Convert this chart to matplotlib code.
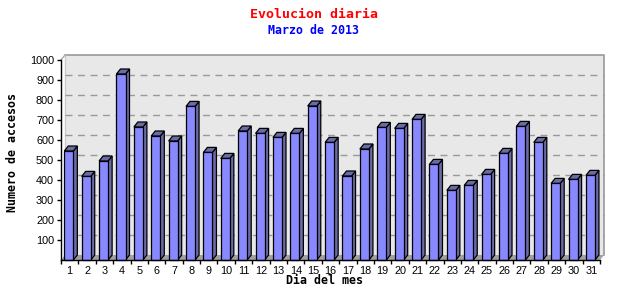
import numpy as np
import matplotlib
matplotlib.use("Agg")
import matplotlib.pyplot as plt
from matplotlib.patches import Polygon

# daily hits, March 2013
dias = list(range(1, 32))
accesos = [545, 418, 495, 930, 665, 620, 595, 768, 538, 508,
           645, 633, 613, 633, 770, 588, 420, 555, 663, 658,
           703, 478, 348, 373, 428, 533, 668, 588, 383, 403, 423]
yticks = list(range(100, 1001, 100))

W, H = 640, 300
fig = plt.figure(figsize=(W / 100, H / 100), dpi=100)
fig.patch.set_facecolor("white")

# axes in pixel box: x 61..600, y 60..260
ax = fig.add_axes([61 / W, 40 / H, 539 / W, 200 / H])
ax.set_xlim(0.5, 31.5)
ax.set_ylim(0, 1000)
ax.set_facecolor("none")

# pixel -> data units for the 3d depth offset
px_x = 31 / 539
px_y = 1000 / 200
dx = 4 * px_x
dy = 5 * px_y

# back plane
back = Polygon([(0.5 + dx, dy), (31.5 + dx, dy), (31.5 + dx, 1000 + dy), (0.5 + dx, 1000 + dy)],
               closed=True, facecolor="#e8e8e8", edgecolor="none", clip_on=False, zorder=0)
ax.add_patch(back)
ax.plot([0.5 + dx, 31.5 + dx, 31.5 + dx], [1000 + dy, 1000 + dy, dy],
        color="#999999", lw=1.2, clip_on=False, zorder=1)
ax.plot([0.5 + dx, 0.5 + dx], [dy, 1000 + dy], color="#cccccc", lw=1, clip_on=False, zorder=1)
ax.plot([0.5, 0.5 + dx], [1000, 1000 + dy], color="#aaaaaa", lw=1, clip_on=False, zorder=1)

# dashed grid on the back plane
for v in yticks[:-1]:
    ax.plot([0.5 + dx, 31.5 + dx], [v + dy, v + dy], color="#999999", lw=1,
            dashes=(5, 4), clip_on=False, zorder=1)

# floor
floor = Polygon([(0.5, 0), (31.5, 0), (31.5 + dx, dy), (0.5 + dx, dy)],
                closed=True, facecolor="#a0a0a0", edgecolor="none", clip_on=False, zorder=1)
ax.add_patch(floor)

# bars
bw = 0.52
x0s = np.array(dias) - 0.5 + 0.19
bars = ax.bar(x0s, accesos, width=bw, align="edge", color="#8888ff",
              edgecolor="black", linewidth=0.9, zorder=3, clip_on=False)
dark = "#6b6ba8"
for x0, v in zip(x0s, accesos):
    x1 = x0 + bw
    side = Polygon([(x1, 0), (x1 + dx, dy), (x1 + dx, v + dy), (x1, v)], closed=True,
                   facecolor=dark, edgecolor="black", linewidth=0.9, zorder=2, clip_on=False)
    top = Polygon([(x0, v), (x1, v), (x1 + dx, v + dy), (x0 + dx, v + dy)], closed=True,
                  facecolor=dark, edgecolor="black", linewidth=0.9, zorder=2, clip_on=False)
    ax.add_patch(side)
    ax.add_patch(top)

# spines and ticks
for s in ["top", "right"]:
    ax.spines[s].set_visible(False)
for s in ["left", "bottom"]:
    ax.spines[s].set_color("black")
    ax.spines[s].set_linewidth(1)
    ax.spines[s].set_zorder(5)

ax.set_yticks(yticks)
ax.set_yticklabels([str(v) for v in yticks], fontsize=7.8, family="Liberation Sans")
ax.tick_params(axis="y", direction="out", length=3, width=1, pad=2)

ax.set_xticks(dias)
ax.set_xticklabels([str(d) for d in dias], fontsize=7.8, family="Liberation Sans")
ax.set_xticks(np.arange(0.5, 32, 1), minor=True)
ax.tick_params(axis="x", which="major", length=0, pad=4)
ax.tick_params(axis="x", which="minor", direction="out", length=3, width=1)

# titles and axis labels
fig.text(314 / W, 1 - 14 / H, "Evolucion diaria", color="red", fontsize=9.5,
         family="DejaVu Sans Mono", weight="bold", ha="center", va="center")
fig.text(314 / W, 1 - 31 / H, "Marzo de 2013", color="blue", fontsize=8.4,
         family="DejaVu Sans Mono", weight="bold", ha="center", va="center")
fig.text(324 / W, 1 - 281 / H, "Dia del mes", color="black", fontsize=8.4,
         family="DejaVu Sans Mono", weight="bold", ha="center", va="center")
fig.text(12.5 / W, 1 - 152 / H, "Numero de accesos", color="black", fontsize=8.4,
         family="DejaVu Sans Mono", weight="bold", ha="center", va="center", rotation=90)

fig.savefig("out.png", dpi=100)
